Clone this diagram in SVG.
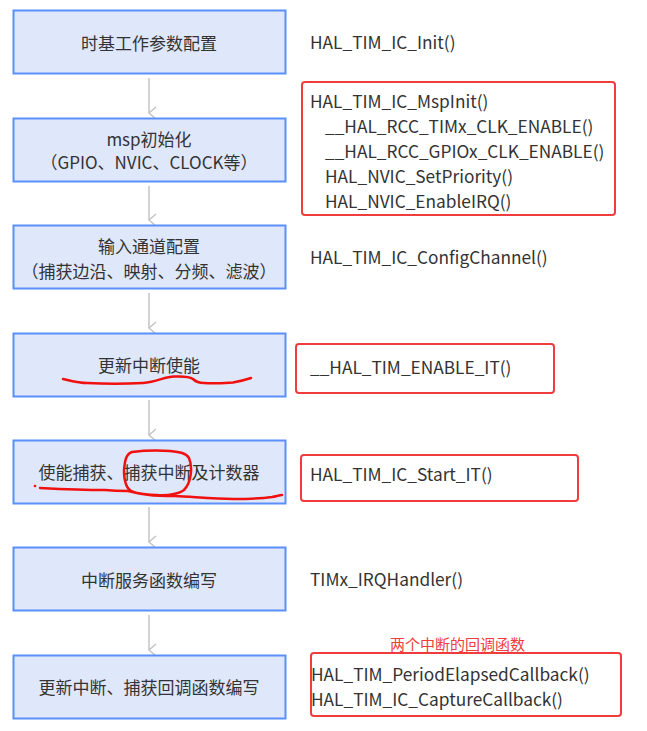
<svg xmlns="http://www.w3.org/2000/svg" width="647" height="731" viewBox="0 0 647 731">
<defs>
<style>
.box{fill:#dfe7fb;stroke:#5b8ff9;stroke-width:2}
.t{font-family:"Noto Sans CJK SC","Noto Sans",sans-serif;font-size:17px;fill:#333;text-anchor:middle}
.c{font-family:"Noto Sans CJK SC","Noto Sans",sans-serif;font-size:17.3px;fill:#333}
.rb{fill:none;stroke:#f03c3c;stroke-width:2}
.ink{fill:none;stroke:#f01010;stroke-width:2.5;stroke-linecap:round;stroke-linejoin:round}
.conn{fill:none;stroke:#c4c4c4;stroke-width:1.5}
</style>
<marker id="ah" markerWidth="14" markerHeight="10" refX="7" refY="8" orient="auto" markerUnits="userSpaceOnUse" viewBox="0 0 14 10">
<path d="M1,1 L7,8 L13,1" fill="none" stroke="#c4c4c4" stroke-width="1.5"/>
</marker>
</defs>
<rect width="647" height="731" fill="#fff"/>
<g id="connectors">
<line class="conn" x1="149" y1="78" x2="149" y2="113" marker-end="url(#ah)"/>
<line class="conn" x1="149" y1="186" x2="149" y2="220" marker-end="url(#ah)"/>
<line class="conn" x1="149" y1="293" x2="149" y2="328" marker-end="url(#ah)"/>
<line class="conn" x1="149" y1="400" x2="149" y2="435" marker-end="url(#ah)"/>
<line class="conn" x1="149" y1="507" x2="149" y2="542" marker-end="url(#ah)"/>
<line class="conn" x1="149" y1="615" x2="149" y2="650" marker-end="url(#ah)"/>
</g>
<g id="n1"><rect class="box" x="13.5" y="10.5" width="272" height="63"/><text class="t" x="149" y="50">时基工作参数配置</text></g>
<g id="n2"><rect class="box" x="13.5" y="118.5" width="272" height="63"/><text class="t" x="149" y="146">msp初始化</text><text class="t" x="149" y="169">（GPIO、NVIC、CLOCK等）</text></g>
<g id="n3"><rect class="box" x="13.5" y="225.5" width="272" height="63"/><text class="t" x="149" y="253">输入通道配置</text><text class="t" x="149" y="278">（捕获边沿、映射、分频、滤波）</text></g>
<g id="n4"><rect class="box" x="13.5" y="333.5" width="272" height="63"/><text class="t" x="149" y="372">更新中断使能</text></g>
<g id="n5"><rect class="box" x="13.5" y="440.5" width="272" height="63"/><text class="t" x="149" y="479">使能捕获、捕获中断及计数器</text></g>
<g id="n6"><rect class="box" x="13.5" y="547.5" width="272" height="63"/><text class="t" x="149" y="587">中断服务函数编写</text></g>
<g id="n7"><rect class="box" x="13.5" y="655.5" width="272" height="63"/><text class="t" x="149" y="694">更新中断、捕获回调函数编写</text></g>
<g id="r1"><text class="c" x="310" y="49">HAL_TIM_IC_Init()</text></g>
<g id="r2"><rect class="rb" x="302" y="82" width="313" height="133" rx="3"/>
<text class="c" x="310" y="108">HAL_TIM_IC_MspInit()</text>
<text class="c" x="325" y="133">__HAL_RCC_TIMx_CLK_ENABLE()</text>
<text class="c" x="325" y="158">__HAL_RCC_GPIOx_CLK_ENABLE()</text>
<text class="c" x="325" y="183">HAL_NVIC_SetPriority()</text>
<text class="c" x="325" y="208">HAL_NVIC_EnableIRQ()</text></g>
<g id="r3"><text class="c" x="310" y="264">HAL_TIM_IC_ConfigChannel()</text></g>
<g id="r4"><rect class="rb" x="296" y="344" width="258" height="49" rx="3"/><text class="c" x="310" y="374">__HAL_TIM_ENABLE_IT()</text></g>
<g id="r5"><rect class="rb" x="301" y="455" width="277" height="46" rx="3"/><text class="c" x="310" y="481">HAL_TIM_IC_Start_IT()</text></g>
<g id="r6"><text class="c" x="310" y="586">TIMx_IRQHandler()</text></g>
<g id="r7"><text x="390" y="650" style="font-family:'Noto Sans CJK SC',sans-serif;font-size:15px;fill:#f03c3c">两个中断的回调函数</text>
<rect class="rb" x="311" y="653" width="310" height="63" rx="3"/>
<text class="c" x="311" y="681">HAL_TIM_PeriodElapsedCallback()</text>
<text class="c" x="311" y="706">HAL_TIM_IC_CaptureCallback()</text></g>
<g id="annotations">
<path class="ink" d="M63,379 C72,381 78,383 87,383 C105,384 125,384 143,383 C158,382 165,376 175,376.5 C185,376 190,377 193,379 C196,382 199,383 204,383 C215,384 225,383 233,382.5 C242,381 248,379 251,378"/>
<circle cx="35" cy="486" r="1.3" fill="#f01010"/>
<path class="ink" d="M40,488 C60,489 85,490 105,490 C115,491 122,491 128,491 C136,493 148,495 157,495 C170,496 180,493 184,490 C191,483 193,468 189,458 C186,453 180,452 170,451 C155,450 140,451 132,452 C126,454 125,460 124,470 C124,480 126,488 131,491 C140,495 160,496 175,496 C195,497 215,499 233,499 C250,499 265,498 272,497 C277,496 280,495 282,495"/>
</g>
</svg>
